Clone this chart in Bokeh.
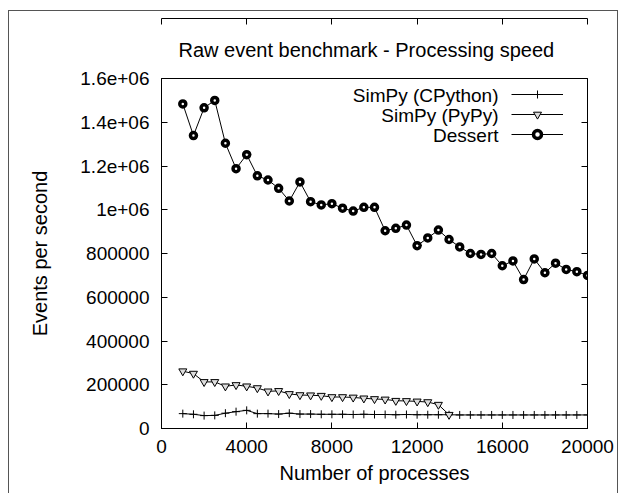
from bokeh.plotting import figure
from bokeh.models import (Range1d, LinearAxis, FixedTicker, Legend, LegendItem, Label, Title,
                          CustomLabelingPolicy)
from bokeh.embed import file_html
from bokeh.resources import INLINE

# ---------------- data ----------------
processes = [1000, 1500, 2000, 2500, 3000, 3500, 4000, 4500, 5000, 5500,
             6000, 6500, 7000, 7500, 8000, 8500, 9000, 9500, 10000, 10500,
             11000, 11500, 12000, 12500, 13000, 13500, 14000, 14500, 15000, 15500,
             16000, 16500, 17000, 17500, 18000, 18500, 19000, 19500, 20000]

simpy_cpython = [68000, 65000, 59000, 60000, 70000, 77000, 83000, 68000, 68000, 66000,
                 70000, 66000, 66000, 65000, 65000, 65000, 64000, 65000, 64000, 64000,
                 63000, 64000, 63000, 63000, 63000, 63000, 62000, 62000, 62000, 62000,
                 62000, 62000, 62000, 62000, 62000, 62000, 62000, 62000, 62000]

pypy_processes = [1000, 1500, 2000, 2500, 3000, 3500, 4000, 4500, 5000, 5500,
                  6000, 6500, 7000, 7500, 8000, 8500, 9000, 9500, 10000, 10500,
                  11000, 11500, 12000, 12500, 13000, 13500]
simpy_pypy = [262000, 251000, 213000, 213000, 193000, 199000, 193000, 185000, 170000, 172000,
              158000, 153000, 152000, 150000, 144000, 144000, 142000, 138000, 135000, 133000,
              127000, 126000, 124000, 121000, 109000, 63000]

dessert = [1484000, 1339000, 1466000, 1500000, 1304000, 1188000, 1252000, 1155000, 1136000, 1098000,
           1040000, 1127000, 1037000, 1022000, 1028000, 1007000, 994000, 1011000, 1011000, 904000,
           915000, 930000, 836000, 871000, 907000, 864000, 830000, 800000, 796000, 800000,
           744000, 766000, 681000, 775000, 712000, 756000, 727000, 717000, 700000]

series_names = ["SimPy (CPython)", "SimPy (PyPy)", "Dessert"]

x_ticks = [0, 4000, 8000, 12000, 16000, 20000]
y_ticks = [0, 200000, 400000, 600000, 800000, 1000000, 1200000, 1400000, 1600000]
y_tick_labels = ["0", "200000", "400000", "600000", "800000", "1e+06", "1.2e+06", "1.4e+06", "1.6e+06"]

title_text = "Raw event benchmark - Processing speed"
x_label = "Number of processes"
y_label = "Events per second"

FONT = "Liberation Sans"

# ---------------- figure ----------------
p = figure(width=610, height=483, output_backend="svg", toolbar_location=None,
           x_range=Range1d(0, 20000), y_range=Range1d(0, 1600000),
           x_axis_type=None, y_axis_type=None,
           min_border_left=152, min_border_right=32, min_border_top=67, min_border_bottom=66)
p.styles = {"margin-left": "8px", "margin-top": "10px",
            "border-left": "1px solid #555", "border-top": "1px solid #555",
            "border-right": "1px solid #555"}
p.grid.visible = False
p.outline_line_color = "black"
p.outline_line_width = 1
p.background_fill_color = "white"
p.border_fill_color = None

t = Title(text=title_text, align="left", text_font=FONT, text_font_size="20px",
          text_font_style="normal", text_color="black", standoff=36, offset=17)
p.add_layout(t, "above")


def style_axis(ax, ticks, labels=True):
    ax.ticker = FixedTicker(ticks=ticks)
    ax.major_tick_in = 6
    ax.major_tick_out = 0
    ax.minor_tick_line_color = None
    ax.axis_line_color = "black"
    ax.major_tick_line_color = "black"
    ax.major_label_text_font = FONT
    ax.major_label_text_color = "black"
    if labels:
        ax.major_label_text_font_size = "19px"
    else:
        ax.major_label_text_font_size = "0px"
        ax.major_label_policy = CustomLabelingPolicy(code="""
            for (const i of indices)
                indices.unset(i)
        """)
        ax.major_label_standoff = 0


xb = LinearAxis(axis_label=x_label)
style_axis(xb, x_ticks)
xb.major_label_standoff = 11
xb.axis_label_standoff = 6
xb.axis_label_text_font = FONT
xb.axis_label_text_font_size = "20px"
xb.axis_label_text_font_style = "normal"
xb.axis_label_text_color = "black"
p.add_layout(xb, "below")

yl = LinearAxis(axis_label=y_label)
style_axis(yl, y_ticks)
yl.major_label_overrides = {v: s for v, s in zip(y_ticks, y_tick_labels)}
yl.major_label_standoff = 12
yl.axis_label_standoff = 26
yl.axis_label_text_font = FONT
yl.axis_label_text_font_size = "20px"
yl.axis_label_text_font_style = "normal"
yl.axis_label_text_color = "black"
p.add_layout(yl, "left")

xt = LinearAxis()
style_axis(xt, x_ticks, labels=False)
p.add_layout(xt, "above")

yr = LinearAxis()
style_axis(yr, y_ticks, labels=False)
p.add_layout(yr, "right")

# ---------------- series ----------------
l1 = p.line(processes, simpy_cpython, line_color="black", line_width=1)
m1 = p.scatter(processes, simpy_cpython, marker="cross", size=8, line_color="black", line_width=1)

l2 = p.line(pypy_processes, simpy_pypy, line_color="black", line_width=1)
m2 = p.scatter(pypy_processes, simpy_pypy, marker="inverted_triangle", size=8,
               line_color="black", fill_color="#dddddd", line_width=1)

l3 = p.line(processes, dessert, line_color="black", line_width=1)
m3 = p.scatter(processes, dessert, marker="circle", size=6, line_color="black",
               fill_color="white", line_width=3.5)

# legend samples (glyph on the right of the text, as in gnuplot)
legend = Legend(items=[LegendItem(label=" ", renderers=[l1, m1]),
                       LegendItem(label=" ", renderers=[l2, m2]),
                       LegendItem(label=" ", renderers=[l3, m3])],
                location=(350, 284), glyph_width=52, glyph_height=20, label_height=20,
                label_width=0, label_standoff=0, spacing=0, padding=0, margin=0,
                label_text_font_size="10px",
                border_line_alpha=0, background_fill_alpha=0)
p.add_layout(legend, "center")

for i, name in enumerate(series_names):
    p.add_layout(Label(x=337, y=333 - 20 * i, x_units="screen", y_units="screen", text=name,
                       text_align="right", text_baseline="middle", text_font=FONT,
                       text_font_size="19px", text_color="black"))

open("out.html", "w").write(file_html(p, INLINE))
